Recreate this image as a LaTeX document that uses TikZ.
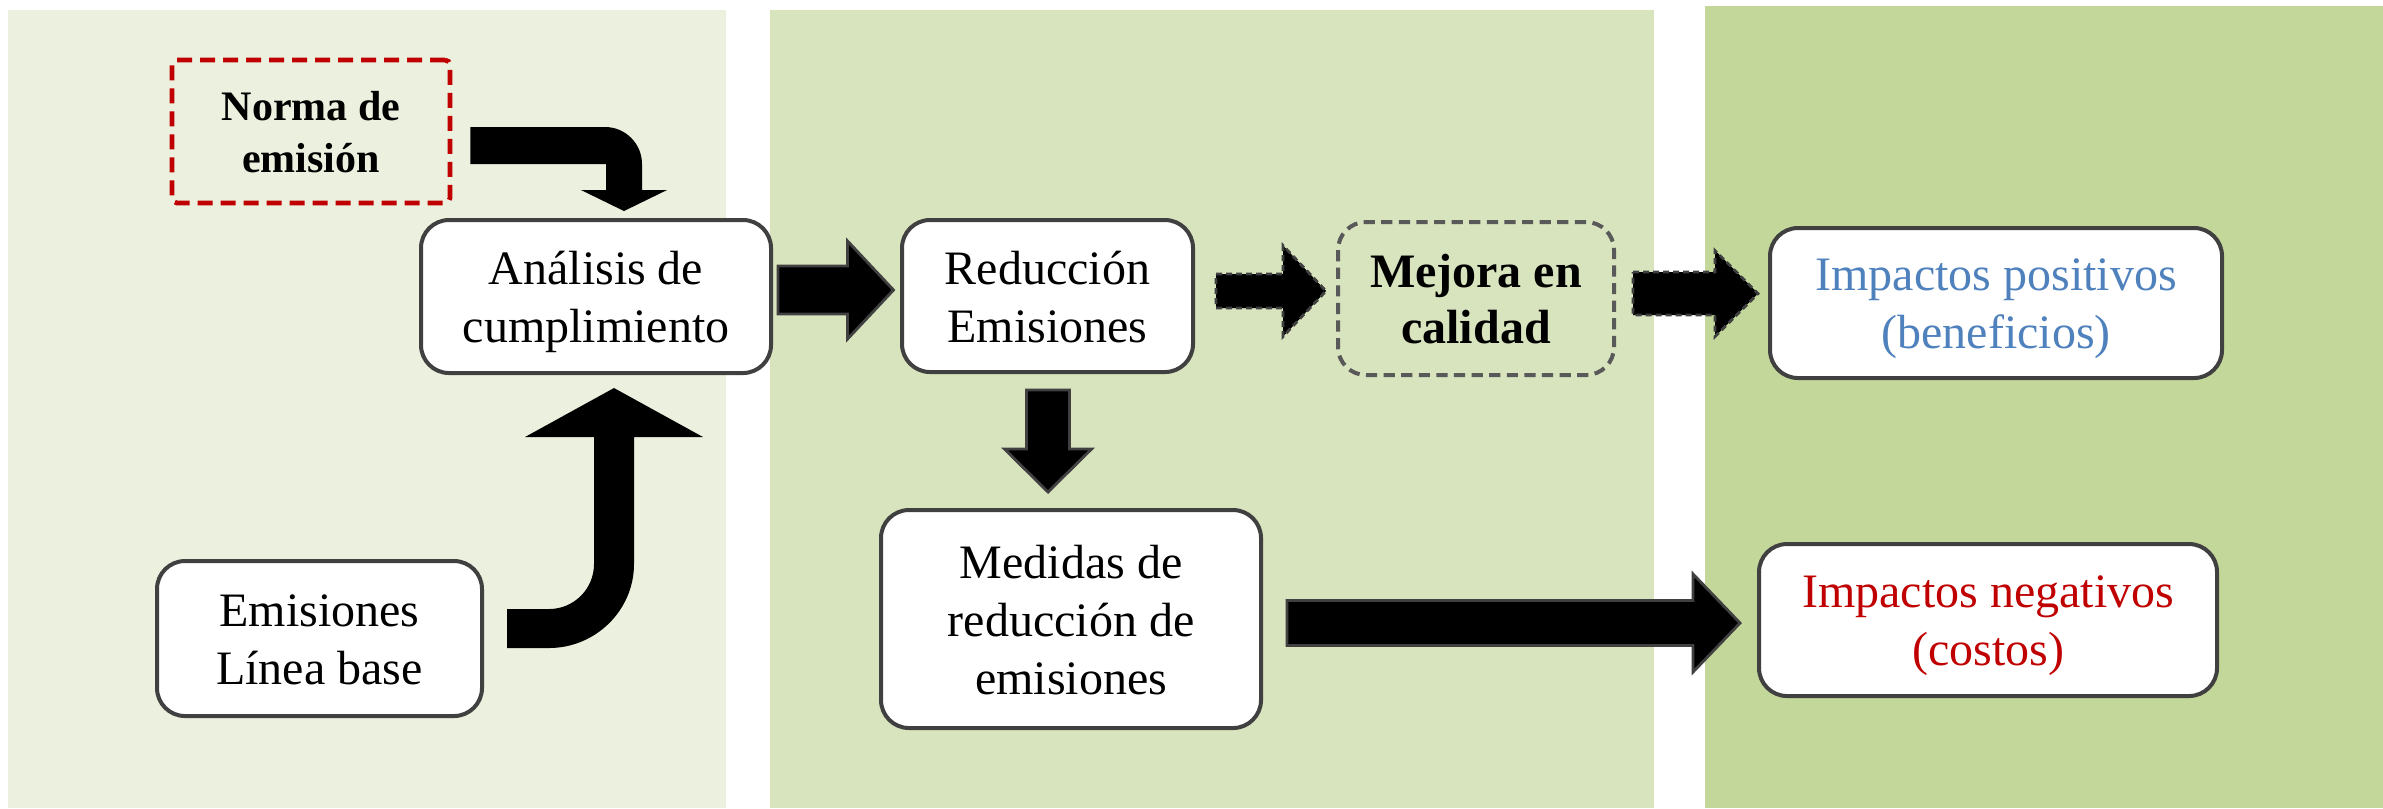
\documentclass[tikz,border=0pt]{standalone}
\usepackage{fontspec}
\setmainfont{Liberation Serif}
\usetikzlibrary{calc}
\definecolor{panelA}{HTML}{EBF1DE}
\definecolor{panelB}{HTML}{D7E4BD}
\definecolor{panelC}{HTML}{C4D79B}
\definecolor{boxgray}{HTML}{404040}
\definecolor{dashgray}{HTML}{595959}
\definecolor{normred}{HTML}{C00000}
\definecolor{posblue}{HTML}{4F81BD}
\newcommand\ts{\rule{0pt}{11pt}}
\newcommand\bs{\rule[-2.3pt]{0pt}{2.3pt}}
\newcommand\tsn{\rule{0pt}{9.6pt}}
\newcommand\bsn{\rule[-2.1pt]{0pt}{2.1pt}}
\newcommand\arrowR[6]{\draw[#1] ($(#2)+(0,-#4)$) -- ($(#3)+(-#6,-#4)$) -- ($(#3)+(-#6,-#5)$) -- (#3) -- ($(#3)+(-#6,#5)$) -- ($(#3)+(-#6,#4)$) -- ($(#2)+(0,#4)$) -- cycle;}
\newcommand\arrowD[6]{\draw[#1] ($(#2)+(-#4,0)$) -- ($(#3)+(-#4,-#6)$) -- ($(#3)+(-#5,-#6)$) -- (#3) -- ($(#3)+(#5,-#6)$) -- ($(#3)+(#4,-#6)$) -- ($(#2)+(#4,0)$) -- cycle;}
\begin{document}
\begin{tikzpicture}[x=0.25pt,y=-0.25pt,
  txt/.style={font=\fontsize{12}{14.5}\selectfont},
  box/.style={txt,draw=boxgray,line width=1pt,fill=white,rounded corners=7pt,align=center,inner sep=0pt},
  normabox/.style={draw=normred,line width=1.2pt,dash pattern=on 3.75pt off 2pt,rounded corners=1.25pt,align=center,inner sep=0pt,font=\bfseries\fontsize{10.5}{13}\selectfont},
  mejorabox/.style={draw=dashgray,line width=1pt,dash pattern=on 2.8pt off 1.6pt,rounded corners=7pt,align=center,inner sep=0pt,font=\bfseries\fontsize{12}{14}\selectfont},
  blockarrow/.style={fill=black,draw=boxgray,line width=0.7pt,line join=miter},
  dasharrow/.style={fill=black,draw=boxgray,line width=0.7pt,dash pattern=on 1.5pt off 1pt},
  bentarrow/.style={fill=black}]
\useasboundingbox (0,0) rectangle (2383,808);
\fill[white] (0,0) rectangle (2383,808);
\fill[panelA] (8,10) rectangle (726,808);
\fill[panelB] (770,10) rectangle (1654,808);
\fill[panelC] (1705,6) rectangle (2383,808);

\node[normabox,minimum width=69.5pt,minimum height=35.75pt] (norma) at (311,131.5) {\tsn Norma de\\emisión\bsn};
\node[box,minimum width=87.5pt,minimum height=38.25pt] (analisis) at (596,296.5) {\ts Análisis de\\cumplimiento\bs};
\node[box,minimum width=81.25pt,minimum height=38.75pt] (linea) at (319.5,638.5) {\ts Emisiones\\Línea base\bs};
\node[box,minimum width=72.75pt,minimum height=38pt] (reduccion) at (1047.5,296) {\ts Reducción\\Emisiones\bs};
\node[mejorabox,minimum width=69pt,minimum height=38.25pt] (mejora) at (1476,298.5) {\ts Mejora en\\calidad\bs};
\node[box,minimum width=95pt,minimum height=54.5pt] (medidas) at (1071,619) {\ts Medidas de\\reducción de\\emisiones\bs};
\node[box,minimum width=113pt,minimum height=37.5pt,text=posblue] (positivos) at (1996,303) {\ts Impactos positivos\\(beneficios)\bs};
\node[box,minimum width=114.5pt,minimum height=38pt,text=normred] (negativos) at (1988,620) {\ts Impactos negativos\\(costos)\bs};

% bent arrow: norma -> analisis
\coordinate (s1) at ($(norma.east)+(18,14)$);
\coordinate (e1) at ($(analisis.north)+(28,-7)$);
\coordinate (k1) at (s1 -| e1);
\fill[bentarrow] ($(s1)+(0,-18.5)$) -- ($(k1)+(-19,-18.5)$)
  .. controls ($(k1)+(1.4,-18.5)$) and ($(k1)+(18,-1.9)$) .. ($(k1)+(18,18.5)$)
  -- ($(e1)+(18,-21)$) -- ($(e1)+(43,-21)$) -- (e1) -- ($(e1)+(-43,-21)$) -- ($(e1)+(-18,-21)$)
  -- ($(k1)+(-18,18.5)$) -- ($(s1)+(0,18.5)$) -- cycle;

% bent arrow: linea -> analisis
\coordinate (s2) at ($(linea.east)+(23,-10)$);
\coordinate (e2) at ($(analisis.south)+(18,13)$);
\coordinate (k2) at (s2 -| e2);
\fill[bentarrow] ($(s2)+(0,-19.5)$) -- ($(k2)+(-65,-19.5)$)
  .. controls ($(k2)+(-40.1,-19.5)$) and ($(k2)+(-20,-39.6)$) .. ($(k2)+(-20,-64.5)$)
  -- ($(e2)+(-20,49)$) -- ($(e2)+(-89,49)$) -- (e2) -- ($(e2)+(89,49)$) -- ($(e2)+(20,49)$)
  -- ($(k2)+(20,-64.5)$)
  .. controls ($(k2)+(20,-18.1)$) and ($(k2)+(-18.6,19.5)$) .. ($(k2)+(-65,19.5)$)
  -- ($(s2)+(0,19.5)$) -- cycle;

% analisis -> reduccion
\coordinate (h3) at ($(reduccion.west)+(-6.5,-6)$);
\coordinate (t3) at ($(analisis.east |- h3)+(5,0)$);
\arrowR{blockarrow}{t3}{h3}{24}{49}{46}

% reduccion -> mejora
\coordinate (h4) at ($(mejora.west)+(-10,-7.5)$);
\coordinate (t4) at ($(reduccion.east |- h4)+(21,0)$);
\arrowR{dasharrow}{t4}{h4}{17}{45.5}{43}

% mejora -> positivos
\coordinate (h5) at ($(positivos.west)+(-10,-9.5)$);
\coordinate (t5) at ($(mejora.east |- h5)+(17,0)$);
\arrowR{dasharrow}{t5}{h5}{21.5}{43}{43}

% reduccion -> medidas
\coordinate (h6) at ($(medidas.north)+(-23,-16)$);
\coordinate (t6) at ($(reduccion.south -| h6)+(0,16)$);
\arrowD{blockarrow}{t6}{h6}{21.5}{43.5}{43}

% medidas -> negativos
\coordinate (h7) at ($(negativos.west)+(-17,3)$);
\coordinate (t7) at ($(medidas.east |- h7)+(24,0)$);
\arrowR{blockarrow}{t7}{h7}{22.5}{49}{47}
\end{tikzpicture}
\end{document}
